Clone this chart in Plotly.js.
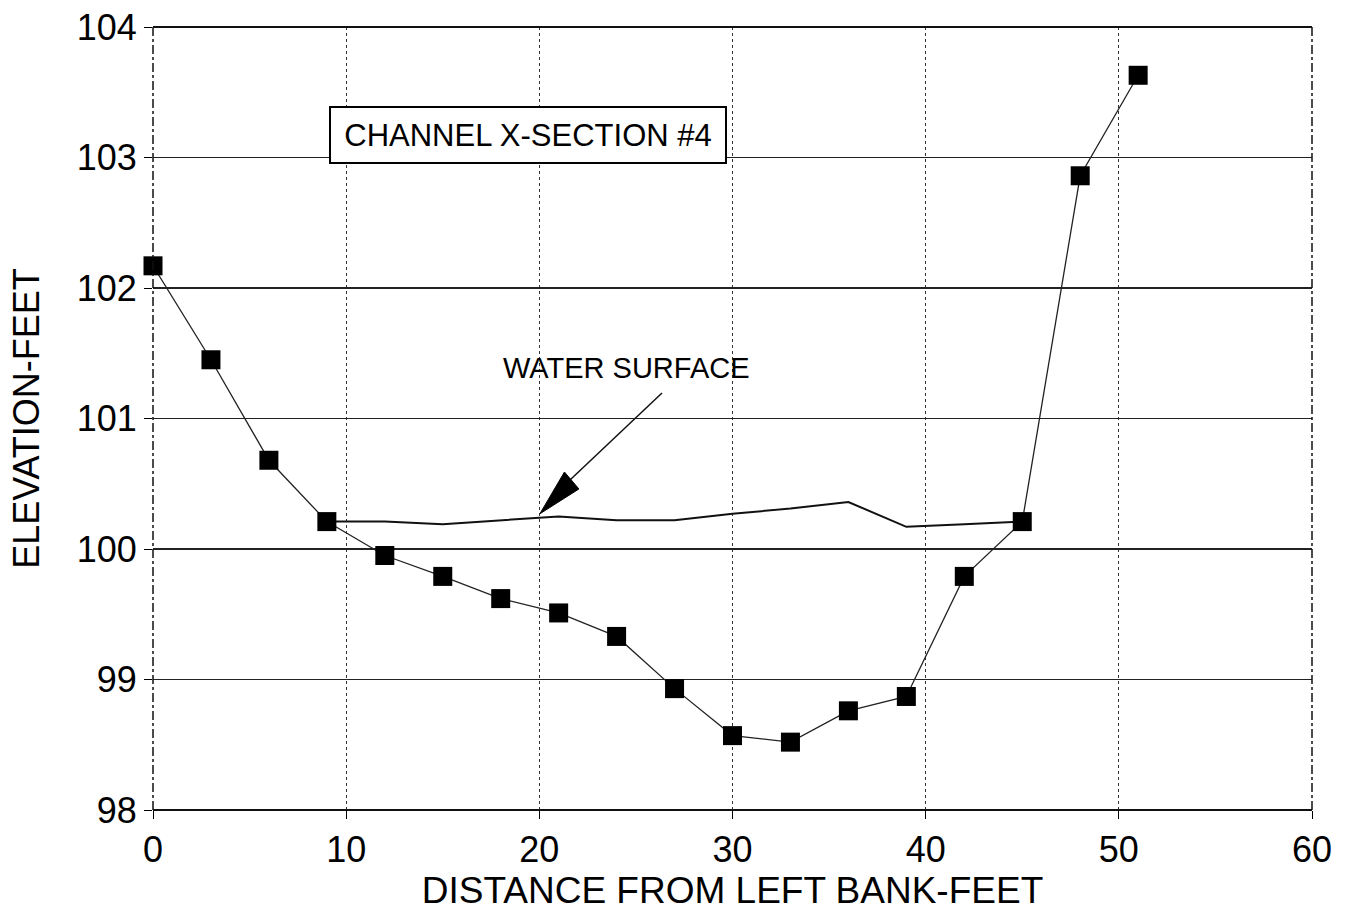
<!DOCTYPE html>
<html>
<head>
<meta charset="utf-8">
<script src="https://cdn.plot.ly/plotly-3.0.1.min.js"></script>
<style>html,body{margin:0;padding:0;background:#fff;}#chart{width:1349px;height:911px;}</style>
</head>
<body>
<div id="chart"></div>
<script>
// Channel bed survey points
const distance = [0, 3, 6, 9, 12, 15, 18, 21, 24, 27, 30, 33, 36, 39, 42, 45, 48, 51];
const bedElevation = [102.17, 101.45, 100.68, 100.21, 99.95, 99.79, 99.62, 99.51, 99.33, 98.93, 98.57, 98.52, 98.76, 98.87, 99.79, 100.21, 102.86, 103.63];

// Water surface profile
const waterDistance = [9, 12, 15, 18, 21, 24, 27, 30, 33, 36, 39, 42, 45];
const waterElevation = [100.21, 100.21, 100.19, 100.22, 100.25, 100.22, 100.22, 100.27, 100.31, 100.36, 100.17, 100.19, 100.21];

const xTicks = [0, 10, 20, 30, 40, 50, 60];
const yTicks = [98, 99, 100, 101, 102, 103, 104];

const chartTitle = 'CHANNEL X-SECTION #4';
const waterLabel = 'WATER SURFACE';
const xTitle = 'DISTANCE FROM LEFT BANK-FEET';
const yTitle = 'ELEVATION-FEET';

const traces = [
  {
    x: waterDistance, y: waterElevation, type: 'scatter', mode: 'lines',
    line: {color: '#111', width: 2}, hoverinfo: 'skip', showlegend: false
  },
  {
    x: distance, y: bedElevation, type: 'scatter', mode: 'lines+markers',
    line: {color: '#222', width: 1.3},
    marker: {symbol: 'square', size: 19, color: '#000', line: {width: 0}},
    cliponaxis: false, showlegend: false
  }
];

const fontMain = 'Liberation Sans, Arial, sans-serif';
const fontPlot = 'Liberation Sans, Arial, sans-serif';

const layout = {
  width: 1349, height: 911,
  margin: {l: 153, r: 37, t: 27, b: 101},
  paper_bgcolor: '#fff', plot_bgcolor: '#fff',
  showlegend: false,
  xaxis: {
    range: [0, 60], tickvals: xTicks, ticktext: xTicks.map(String),
    showgrid: true, gridcolor: '#333', gridwidth: 1.2, griddash: 'dot',
    zeroline: false, showline: false,
    ticks: 'outside', ticklen: 8, tickcolor: '#000', tickwidth: 1,
    tickfont: {family: fontMain, size: 36, color: '#000'},
    title: {text: xTitle, font: {family: fontMain, size: 37, color: '#000'}, standoff: 8},
    automargin: false
  },
  yaxis: {
    range: [98, 104], tickvals: yTicks, ticktext: yTicks.map(String),
    showgrid: true, gridcolor: '#222', gridwidth: 1.5,
    zeroline: false, showline: false,
    ticks: 'outside', ticklen: 8, tickcolor: '#000', tickwidth: 1,
    tickfont: {family: fontMain, size: 36, color: '#000'},
    title: {text: yTitle, font: {family: fontMain, size: 36, color: '#000'}, standoff: 26},
    automargin: false
  },
  shapes: [
    {type: 'line', xref: 'paper', yref: 'paper', x0: 0, x1: 0, y0: 0, y1: 1, line: {color: '#111', width: 1.5, dash: 'dashdot'}},
    {type: 'line', xref: 'paper', yref: 'paper', x0: 1, x1: 1, y0: 0, y1: 1, line: {color: '#111', width: 1.5, dash: 'dashdot'}},
    {type: 'line', xref: 'paper', yref: 'paper', x0: 0, x1: 1, y0: 1, y1: 1, line: {color: '#111', width: 2}},
    {type: 'line', xref: 'paper', yref: 'paper', x0: 0, x1: 1, y0: 0, y1: 0, line: {color: '#111', width: 2}},
    // arrow shaft
    {type: 'line', xref: 'x', yref: 'y', x0: 26.35, y0: 101.195, x1: 21.6, y1: 100.53, line: {color: '#111', width: 1.5}},
    // arrow head
    {type: 'path', xref: 'x', yref: 'y', path: 'M 20.03 100.27 L 21.30 100.59 L 22.05 100.46 Z', fillcolor: '#000', line: {color: '#000', width: 1}}
  ],
  annotations: [
    {
      x: 19.4, y: 103.17, xref: 'x', yref: 'y', text: chartTitle, showarrow: false,
      font: {family: fontPlot, size: 31, color: '#000'},
      bgcolor: '#fff', bordercolor: '#000', borderwidth: 2, width: 392, height: 52,
      xanchor: 'center', yanchor: 'middle'
    },
    {
      x: 24.53, y: 101.39, xref: 'x', yref: 'y', text: waterLabel, showarrow: false,
      font: {family: fontPlot, size: 29, color: '#000'},
      xanchor: 'center', yanchor: 'middle'
    }
  ]
};

Plotly.newPlot('chart', traces, layout, {displayModeBar: false, staticPlot: true});
</script>
</body>
</html>
